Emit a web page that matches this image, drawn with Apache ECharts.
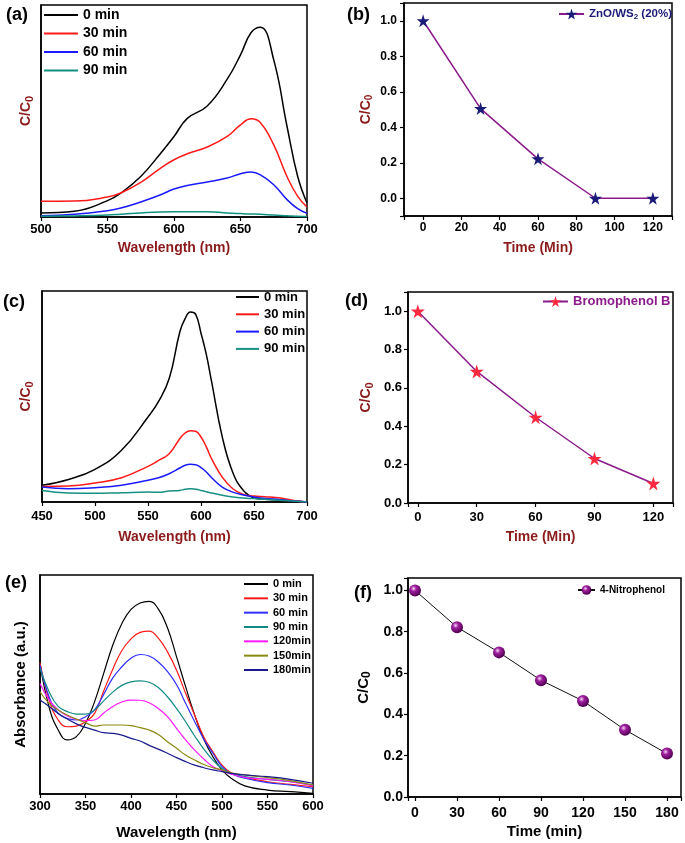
<!DOCTYPE html>
<html><head><meta charset="utf-8">
<script src="https://cdn.jsdelivr.net/npm/echarts@6/dist/echarts.min.js"></script>
<style>html,body{margin:0;padding:0;background:#fff}#c{width:685px;height:843px}</style>
</head><body><div id="c"></div>
<script>
const FONT = 'Arial, "Liberation Sans", sans-serif';
const DARKRED = '#8B1A1A';
const PURPLE = '#8B1A8B';

// ---------- (a) MB spectra ----------
const aWavelength = [500,525,550,560,575,590,600,610,625,640,650,658,665,675,685,693,700];
const a0min  = [0.019,0.027,0.077,0.113,0.191,0.301,0.380,0.465,0.524,0.650,0.765,0.870,0.895,0.741,0.427,0.191,0.066];
const a30min = [0.074,0.075,0.094,0.113,0.163,0.231,0.270,0.298,0.330,0.380,0.435,0.463,0.445,0.340,0.190,0.097,0.047];
const a60min = [0.006,0.013,0.030,0.042,0.071,0.105,0.132,0.149,0.165,0.184,0.204,0.212,0.199,0.152,0.082,0.039,0.017];
const a90min = [0.003,0.005,0.009,0.013,0.019,0.024,0.025,0.025,0.025,0.019,0.016,0.014,0.013,0.009,0.006,0.003,0.002];
const aNames = ['0 min','30 min','60 min','90 min'];

// ---------- (b) ZnO/WS2 ----------
const bTime  = [0,30,60,90,120];
const bRatio = [1.0,0.505,0.222,0.0,0.0];

// ---------- (c) Bromophenol spectra ----------
const cWavelength = [450,475,500,525,550,560,570,580,585,590,595,600,605,610,620,630,640,650,660,675,690,700];
const c0min  = [0.079,0.107,0.155,0.245,0.403,0.477,0.585,0.806,0.869,0.900,0.889,0.800,0.700,0.570,0.310,0.140,0.055,0.020,0.013,0.010,0.005,0.0];
const c30min = [0.074,0.076,0.090,0.115,0.169,0.197,0.229,0.300,0.327,0.338,0.335,0.308,0.261,0.205,0.118,0.063,0.036,0.028,0.025,0.019,0.005,0.0];
const c60min = [0.071,0.063,0.068,0.079,0.103,0.115,0.134,0.161,0.174,0.179,0.177,0.163,0.142,0.115,0.071,0.047,0.033,0.024,0.017,0.011,0.003,0.0];
const c90min = [0.055,0.043,0.041,0.044,0.047,0.046,0.052,0.055,0.060,0.063,0.060,0.055,0.049,0.043,0.032,0.024,0.019,0.016,0.013,0.008,0.003,0.0];
const cNames = ['0 min','30 min','60 min','90 min'];

// ---------- (d) Bromophenol B ----------
const dTime  = [0,30,60,90,120];
const dRatio = [1.0,0.686,0.447,0.232,0.102];

// ---------- (e) 4-Nitrophenol spectra ----------
const eWavelength = [300,310,320,330,340,350,360,370,380,390,400,410,420,430,440,450,460,470,480,490,500,510,525,550,575,600];
const e0min   = [0.597,0.396,0.292,0.247,0.262,0.323,0.422,0.551,0.680,0.779,0.843,0.872,0.880,0.845,0.760,0.627,0.490,0.360,0.250,0.170,0.110,0.072,0.037,0.018,0.011,0.003];
const e30min  = [0.600,0.430,0.338,0.307,0.310,0.330,0.368,0.470,0.570,0.655,0.708,0.738,0.744,0.712,0.650,0.566,0.460,0.360,0.260,0.193,0.132,0.097,0.076,0.056,0.044,0.033];
const e60min  = [0.589,0.444,0.368,0.345,0.338,0.353,0.384,0.455,0.530,0.581,0.620,0.637,0.630,0.603,0.560,0.500,0.414,0.330,0.250,0.186,0.125,0.094,0.072,0.052,0.041,0.026];
const e90min  = [0.574,0.467,0.400,0.376,0.365,0.365,0.384,0.425,0.465,0.496,0.512,0.517,0.510,0.486,0.444,0.391,0.330,0.265,0.205,0.155,0.117,0.094,0.079,0.067,0.056,0.041];
const e120min = [0.505,0.430,0.384,0.356,0.341,0.335,0.338,0.370,0.400,0.420,0.429,0.428,0.417,0.390,0.353,0.300,0.247,0.200,0.160,0.125,0.107,0.091,0.076,0.067,0.056,0.037];
const e150min = [0.467,0.414,0.384,0.361,0.342,0.326,0.310,0.315,0.315,0.315,0.312,0.303,0.292,0.272,0.239,0.209,0.178,0.155,0.135,0.120,0.110,0.097,0.087,0.075,0.061,0.041];
const e180min = [0.429,0.400,0.368,0.342,0.320,0.304,0.292,0.280,0.277,0.269,0.254,0.242,0.222,0.205,0.186,0.166,0.148,0.132,0.120,0.110,0.102,0.094,0.087,0.079,0.067,0.049];
const eNames = ['0 min','30 min','60 min','90 min','120min','150min','180min'];

// ---------- (f) 4-Nitrophenol ----------
const fTime  = [0,30,60,90,120,150,180];
const fRatio = [1.0,0.822,0.700,0.565,0.465,0.325,0.210];

const STAR = 'path://M50,0 L61,35 L98,35 L68,57 L79,91 L50,70 L21,91 L32,57 L2,35 L39,35 Z';
const zip = (xs, ys) => xs.map((x, i) => [x, ys[i]]);
const tag = (n, k) => n + '\u200b'.repeat(k);
const strip = n => n.replace(/\u200b/g, '');

function fmt(step, dec, lo, hi) {
  return v => {
    const k = Math.round(v / step);
    if (Math.abs(v - k * step) > step * 1e-6 || v < lo - 1e-9 || v > hi + 1e-9) return '';
    return (k * step).toFixed(dec);
  };
}
function sub(color, size, pad) {
  return { s: { fontSize: size, fontWeight: 'bold', fontFamily: FONT, color: color, padding: [pad, 0, 0, 0] } };
}

function xAx(gi, min, max, step, lo, hi, name, color, nameSize, nameGap, labelSize, margin) {
  return {
    type: 'value', gridIndex: gi, min: min, max: max, minInterval: step, maxInterval: step,
    name: name, nameLocation: 'middle', nameGap: nameGap,
    nameTextStyle: { color: color, fontSize: nameSize, fontWeight: 'bold', fontFamily: FONT },
    axisLine: { show: true, onZero: false, lineStyle: { color: '#000', width: 1.5 } },
    axisTick: { show: true, inside: false, length: 4, lineStyle: { color: '#000', width: 1.2 } },
    axisLabel: { fontSize: labelSize, fontWeight: 'bold', color: '#000', fontFamily: FONT, margin: margin, formatter: fmt(step, 0, lo, hi) },
    splitLine: { show: false }
  };
}
function yAxSpec(gi, name, color, nameSize, nameGap, rich) {
  return {
    type: 'value', gridIndex: gi, min: 0, max: 1,
    name: name, nameLocation: 'middle', nameGap: nameGap,
    nameTextStyle: { color: color, fontSize: nameSize, fontWeight: 'bold', fontFamily: FONT, rich: rich },
    axisLine: { show: true, onZero: false, lineStyle: { color: '#000', width: 1.5 } },
    axisTick: { show: false }, axisLabel: { show: false }, splitLine: { show: false }
  };
}
function yAxRatio(gi, min, max, name, color, nameSize, nameGap, labelSize, margin, rich) {
  return {
    type: 'value', gridIndex: gi, min: min, max: max, minInterval: 0.2, maxInterval: 0.2,
    name: name, nameLocation: 'middle', nameGap: nameGap,
    nameTextStyle: { color: color, fontSize: nameSize, fontWeight: 'bold', fontFamily: FONT, rich: rich },
    axisLine: { show: true, onZero: false, lineStyle: { color: '#000', width: 1.5 } },
    axisTick: { show: true, inside: false, length: 4, lineStyle: { color: '#000', width: 1.2 } },
    axisLabel: { fontSize: labelSize, fontWeight: 'bold', color: '#000', fontFamily: FONT, margin: margin, formatter: fmt(0.2, 1, 0, 1.0) },
    splitLine: { show: false }
  };
}
function spec(name, xs, ys, color, gi, width) {
  return { type: 'line', name: name, xAxisIndex: gi, yAxisIndex: gi, data: zip(xs, ys),
    symbol: 'none', smooth: 0.45,
    lineStyle: { color: color, width: width }, itemStyle: { color: color } };
}
function grid(l, t, w, h) {
  return { left: l, top: t, width: w, height: h, show: true, borderColor: '#000', borderWidth: 1.5, backgroundColor: 'transparent', containLabel: false };
}
function legendSpec(names, left, top, iw, ih, gap, size) {
  return { data: names, orient: 'vertical', left: left, top: top, padding: 0, itemWidth: iw, itemHeight: ih, itemGap: gap,
    selectedMode: false, formatter: strip, itemStyle: { opacity: 0 },
    textStyle: { fontSize: size, fontWeight: 'bold', color: '#000', fontFamily: FONT } };
}
function legendMark(names, left, top, iw, ih, size, color, extra) {
  return Object.assign({ data: names, orient: 'vertical', left: left, top: top, padding: 0, itemWidth: iw, itemHeight: ih,
    selectedMode: false, textStyle: { fontSize: size, fontWeight: 'bold', color: color, fontFamily: FONT } }, extra || {});
}
function label(text, left, top) {
  return { text: text, left: left, top: top, padding: 0, textStyle: { fontSize: 18, fontWeight: 'bold', color: '#000', fontFamily: FONT } };
}

const aColors = ['#000000', '#ff1a1a', '#1a1aff', '#10907f'];
const cColors = ['#000000', '#ff1a1a', '#1a1aff', '#179085'];
const eColors = ['#000000', '#ff1a1a', '#3030ff', '#128a85', '#ff1aff', '#8a8a10', '#1a1a8a'];
const aData = [a0min, a30min, a60min, a90min];
const cData = [c0min, c30min, c60min, c90min];
const eData = [e0min, e30min, e60min, e90min, e120min, e150min, e180min];

const series = [];
aNames.forEach((n, i) => series.push(spec(tag(n, 0), aWavelength, aData[i], aColors[i], 0, 1.5)));
series.push({ type: 'line', name: 'ZnO/WS2 (20%)', xAxisIndex: 1, yAxisIndex: 1, data: zip(bTime, bRatio),
  symbol: STAR, symbolSize: 13, lineStyle: { color: PURPLE, width: 1.5 }, itemStyle: { color: '#1a1a78' } });
cNames.forEach((n, i) => series.push(spec(tag(n, 1), cWavelength, cData[i], cColors[i], 2, 1.5)));
series.push({ type: 'line', name: 'Bromophenol B', xAxisIndex: 3, yAxisIndex: 3, data: zip(dTime, dRatio),
  symbol: STAR, symbolSize: 14, lineStyle: { color: PURPLE, width: 1.5 }, itemStyle: { color: '#ff2a40' } });
eNames.forEach((n, i) => series.push(spec(tag(n, 2), eWavelength, eData[i], eColors[i], 4, 1.2)));
series.push({ type: 'line', name: '4-Nitrophenol', xAxisIndex: 5, yAxisIndex: 5, data: zip(fTime, fRatio),
  symbol: 'circle', symbolSize: 12, lineStyle: { color: '#111', width: 1 },
  itemStyle: { color: { type: 'radial', x: 0.38, y: 0.35, r: 0.65, colorStops: [
    { offset: 0, color: '#f4d8f4' }, { offset: 0.35, color: '#a020a0' }, { offset: 1, color: '#500050' }] } } });

const option = {
  animation: false,
  backgroundColor: '#fff',
  title: [label('(a)', 6, 6), label('(b)', 347, 6), label('(c)', 3, 293), label('(d)', 345, 292), label('(e)', 5, 574), label('(f)', 354, 584)],
  grid: [grid(41, 5, 266, 212), grid(404, 3, 268, 213), grid(42, 291, 265, 211), grid(408, 292, 265, 211), grid(40, 575, 273, 219), grid(408, 578, 273, 219)],
  xAxis: [
    xAx(0, 500, 700, 50, 500, 700, 'Wavelength (nm)', DARKRED, 14, 24, 13, 6),
    xAx(1, -10, 130, 20, 0, 120, 'Time (Min)', DARKRED, 14, 25, 12, 6),
    xAx(2, 450, 700, 50, 450, 700, 'Wavelength (nm)', DARKRED, 14, 28, 13, 8),
    xAx(3, -5, 130, 30, 0, 120, 'Time (Min)', DARKRED, 14, 27, 13, 8),
    xAx(4, 300, 600, 50, 300, 600, 'Wavelength (nm)', '#000', 15, 31, 13, 6),
    xAx(5, -5, 190, 30, 0, 180, 'Time (min)', '#000', 15, 27, 14, 9)
  ],
  yAxis: [
    yAxSpec(0, 'C/C{s|0}', DARKRED, 14, 6, sub(DARKRED, 11, 6)),
    yAxRatio(1, -0.1, 1.1, 'C/C{s|0}', DARKRED, 14, 30, 12, 7, sub(DARKRED, 10, 6)),
    yAxSpec(2, 'C/C{s|0}', DARKRED, 14, 7, sub(DARKRED, 11, 6)),
    yAxRatio(3, 0, 1.1, 'C/C{s|0}', DARKRED, 14, 33, 13, 6, sub(DARKRED, 11, 6)),
    yAxSpec(4, 'Absorbance (a.u.)', '#000', 15, 12, null),
    yAxRatio(5, 0, 1.06, 'C/C{s|0}', '#000', 15, 35, 14, 5, sub('#000', 12, 6))
  ],
  legend: [
    legendSpec(aNames.map(n => tag(n, 0)), 43, 8, 34, 14, 4.5, 14),
    legendMark(['ZnO/WS2 (20%)'], 558, 8, 25, 14, 11.5, '#1a1a78', {
      formatter: () => 'ZnO/WS{s|2} (20%)',
      textStyle: { fontSize: 11.5, fontWeight: 'bold', color: '#1a1a78', fontFamily: FONT, rich: sub('#1a1a78', 8, 5) } }),
    legendSpec(cNames.map(n => tag(n, 1)), 235, 290.5, 23, 13, 4.3, 13),
    legendMark(['Bromophenol B'], 542, 295, 25, 14, 13, PURPLE),
    legendSpec(eNames.map(n => tag(n, 2)), 243, 578.5, 24, 11, 3.33, 11),
    legendMark(['4-Nitrophenol'], 577, 585, 17, 12, 10, '#000')
  ],
  series: series
};

const chart = echarts.init(document.getElementById('c'), null, { renderer: 'canvas' });
chart.setOption(option);
</script>
</body></html>
